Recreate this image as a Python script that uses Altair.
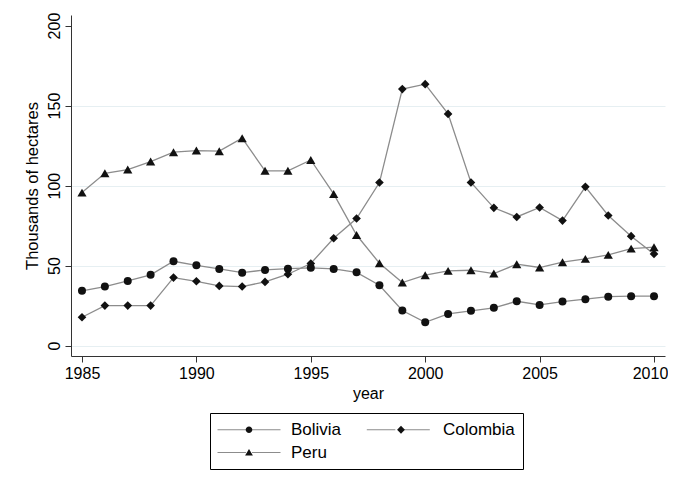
import altair as alt
import pandas as pd

years = list(range(1985, 2011))
countries = ["Bolivia", "Colombia", "Peru"]
bolivia = [34.2, 36.9, 40.4, 44.2, 52.7, 50.2, 47.9, 45.6, 47.3, 48.1, 48.6, 47.9, 45.8,
           37.7, 21.9, 14.6, 19.8, 21.7, 23.6, 27.7, 25.4, 27.5, 29.0, 30.6, 30.9, 30.9]
colombia = [17.7, 25.0, 25.0, 25.0, 42.5, 40.2, 37.3, 36.9, 39.8, 44.6, 51.3, 67.1, 79.4,
            101.9, 160.3, 163.4, 144.8, 101.9, 86.1, 80.4, 86.3, 78.1, 99.2, 81.3, 68.4, 57.3]
peru = [95.6, 107.7, 110.0, 115.0, 120.9, 121.9, 121.5, 129.6, 109.2, 109.2, 116.0, 94.8, 69.1,
        51.5, 39.4, 44.0, 46.7, 47.1, 45.0, 50.9, 48.8, 52.1, 54.2, 56.7, 60.6, 61.5]
x_ticks = [1985, 1990, 1995, 2000, 2005, 2010]
y_ticks = [0, 50, 100, 150, 200]

rows = []
for c, vals in zip(countries, [bolivia, colombia, peru]):
    for yr, v in zip(years, vals):
        rows.append({"year": yr, "value": v, "country": c})
df = pd.DataFrame(rows)

FONT = "Liberation Sans"
LINE = "#8c8c8c"
MARK = "#111111"

x = alt.X("year:Q",
          scale=alt.Scale(domain=[1984.52, 2010.48], nice=False, zero=False),
          axis=alt.Axis(values=x_ticks, format="d", title="year", grid=False,
                        labelFont=FONT, labelFontSize=16, labelColor="black",
                        titleFont=FONT, titleFontSize=16, titleFontWeight="normal",
                        titleColor="black", domainColor="#333333", tickColor="#333333",
                        tickSize=6, labelPadding=3, titlePadding=4, labelFlush=False,
                        labelOffset={"condition": {"test": "datum.value === 2010",
                                                   "value": -4},
                                     "value": 0}))
y = alt.Y("value:Q",
          scale=alt.Scale(domain=[-6.5, 206.6], nice=False, zero=False),
          axis=alt.Axis(values=y_ticks, title="Thousands of hectares",
                        labelAngle=270, labelAlign="center", labelBaseline="bottom",
                        labelFont=FONT, labelFontSize=16, labelColor="black",
                        titleFont=FONT, titleFontSize=16.5, titleFontWeight="normal",
                        titleColor="black", domainColor="#333333", tickColor="#333333",
                        tickSize=6, labelPadding=3, titlePadding=6,
                        gridColor={"condition": {"test": "datum.value === 200",
                                                 "value": "rgba(0,0,0,0)"},
                                   "value": "#e6eff2"},
                        gridWidth=1))

lines = alt.Chart(df).mark_line(color=LINE, strokeWidth=1.3).encode(
    x=x, y=y, detail="country:N")

points = alt.Chart(df).mark_point(filled=True, color=MARK, opacity=1).encode(
    x=x, y=y,
    shape=alt.Shape("country:N",
                    scale=alt.Scale(domain=countries,
                                    range=["circle", "diamond", "triangle-up"]),
                    legend=None),
    size=alt.Size("country:N",
                  scale=alt.Scale(domain=countries, range=[64, 85, 100]),
                  legend=None))

# legend symbols: a horizontal line with the marker in the middle
line_paths = ["M-3,0H6.5M8.5,0H18"] * 3
marker_paths = [
    "M8.6,0A1.1,1.1,0,1,1,6.4,0A1.1,1.1,0,1,1,8.6,0Z",
    "M7.5,-1.35L8.8,0L7.5,1.35L6.2,0Z",
    "M7.5,-1.2L8.8,1.0L6.2,1.0Z",
]

common = dict(title=None, orient="none", legendX=139, legendY=398,
              direction="horizontal", columns=2, padding=8,
              symbolSize=36, symbolOpacity=1, labelFont=FONT, labelFontSize=17,
              labelOffset=56, rowPadding=5)

# grey line part of the legend keys (labels are blank spacers)
legend_lines = alt.Chart(df).mark_point(
    filled=False, color=LINE, strokeWidth=1.2, opacity=0
).encode(
    x=x, y=y,
    shape=alt.Shape("country:N",
                    scale=alt.Scale(domain=countries, range=line_paths),
                    legend=alt.Legend(symbolStrokeColor=LINE, symbolStrokeWidth=1.2,
                                      symbolFillColor="rgba(0,0,0,0)",
                                      labelExpr="'\u00a0'", labelColor="black",
                                      strokeColor="rgba(0,0,0,0)",
                                      columnPadding=73.3, **common)))

# black markers and labels of the legend, with the frame
legend_marks = alt.Chart(df).mark_point(
    filled=True, color=MARK, opacity=0
).encode(
    x=x, y=y,
    shape=alt.Shape("country:N",
                    scale=alt.Scale(domain=countries, range=marker_paths),
                    legend=alt.Legend(symbolFillColor=MARK, labelColor="black",
                                      strokeColor="black", columnPadding=28,
                                      **common)))

chart = alt.layer(lines, points, legend_lines, legend_marks).resolve_scale(
    shape="independent", size="independent"
).properties(
    width=594, height=341,
    padding={"left": 63, "top": 7, "right": 3, "bottom": 114},
    autosize="none",
    background="white",
).configure_view(stroke=None)

chart.save("out.html", embed_options={"renderer": "svg", "actions": False})
